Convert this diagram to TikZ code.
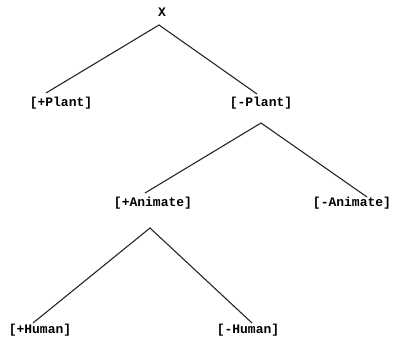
\documentclass[tikz,border=0pt]{standalone}
\usepackage{fontspec}
\setmonofont{Liberation Mono}
\begin{document}
\begin{tikzpicture}[x=1pt,y=1pt,
  lab/.style={font=\ttfamily\bfseries\fontsize{13}{15}\selectfont, inner sep=0pt, anchor=center},
  edge/.style={line width=1.1pt, black!85}]
\useasboundingbox (0,0) rectangle (398,340);
\node[lab] (x)  at (162,328) {X};
\node[lab] (pp) at (61,237) {[+Plant]};
\node[lab] (mp) at (261,237) {[-Plant]};
\node[lab] (pa) at (153,137) {[+Animate]};
\node[lab] (ma) at (352,137) {[-Animate]};
\node[lab] (ph) at (40,10) {[+Human]};
\node[lab] (mh) at (248,10) {[-Human]};
\draw[edge] ([shift={(-15pt,10pt)}]pp.center) -- ([shift={(-3pt,-13pt)}]x.center) -- ([shift={(-4pt,9pt)}]mp.center);
\draw[edge] ([shift={(-8pt,10pt)}]pa.center) -- ([shift={(0pt,-20pt)}]mp.center) -- ([shift={(15pt,6pt)}]ma.center);
\draw[edge] ([shift={(-7pt,7pt)}]ph.center) -- ([shift={(-3pt,-25pt)}]pa.center) -- ([shift={(4pt,7pt)}]mh.center);
\end{tikzpicture}
\end{document}
